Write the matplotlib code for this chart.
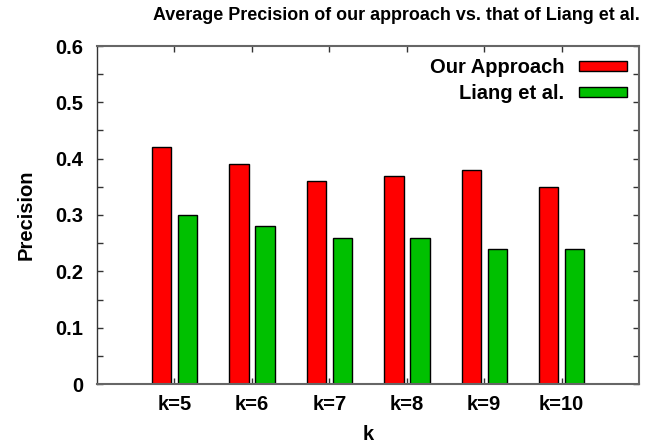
import matplotlib
matplotlib.use("Agg")
import matplotlib.pyplot as plt
import numpy as np
from matplotlib.ticker import MultipleLocator

categories = ["k=5", "k=6", "k=7", "k=8", "k=9", "k=10"]
our_approach = [0.42, 0.39, 0.36, 0.37, 0.38, 0.35]
liang = [0.30, 0.28, 0.26, 0.26, 0.24, 0.24]
yticks = [0, 0.1, 0.2, 0.3, 0.4, 0.5, 0.6]
ytick_labels = ["0", "0.1", "0.2", "0.3", "0.4", "0.5", "0.6"]

plt.rcParams['font.family'] = ['Liberation Sans', 'DejaVu Sans']
plt.rcParams['font.weight'] = 'bold'

FS = 14.5
fig = plt.figure(figsize=(6.52, 4.45), dpi=100)
ax = fig.add_axes([97/652, 1-384/445, (639-97)/652, (384-46)/445])

x = np.arange(1, len(categories) + 1)
w = 0.25
ax.bar(x - 0.165, our_approach, w, color='#ff0000', edgecolor='black', linewidth=1, label='Our Approach')
ax.bar(x + 0.17, liang, w, color='#00c000', edgecolor='black', linewidth=1, label='Liang et al.')

ax.set_xlim(0, 7)
ax.set_ylim(0, 0.6)
ax.set_xticks(x)
ax.set_xticklabels(categories, fontsize=FS, fontweight='bold')
ax.set_yticks(yticks)
ax.set_yticklabels(ytick_labels, fontsize=FS, fontweight='bold')
ax.yaxis.set_minor_locator(MultipleLocator(0.05))
ax.tick_params(axis='both', which='both', direction='in', length=4, width=1,
               top=True, right=True, color='#333333')
ax.tick_params(axis='x', pad=8)
ax.tick_params(axis='y', pad=10)
for s in ax.spines.values():
    s.set_color('#666666')
    s.set_linewidth(1.5)
ax.spines['left'].set_color('#333333')
ax.spines['left'].set_linewidth(1.0)

ax.set_xlabel('k', fontsize=FS, fontweight='bold', labelpad=8)
ax.set_ylabel('Precision', fontsize=FS, fontweight='bold', labelpad=14)
fig.text(396/652, 1-16/445, 'Average Precision of our approach vs. that of Liang et al.',
         ha='center', va='center', fontsize=12.9, fontweight='bold')

leg = ax.legend(loc='upper right', frameon=False, fontsize=FS, markerfirst=False,
                handlelength=2.4, handleheight=0.4, handletextpad=0.7,
                borderaxespad=0.2, labelspacing=0.35)
for t in leg.get_texts():
    t.set_ha('right')

fig.savefig('out.png', dpi=100)
